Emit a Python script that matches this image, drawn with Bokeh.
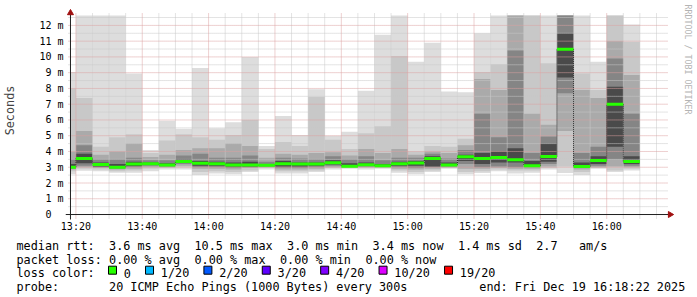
import numpy as np
from bokeh.plotting import figure
from bokeh.layouts import column
from bokeh.models import Range1d, FixedTicker
from bokeh.core.properties import value
from bokeh.embed import file_html
from bokeh.resources import INLINE

# ---------------- data ----------------
FIRST_BAR_END = "13:20"      # each bar = one 5-minute probe interval ending at this time
STEP_MIN = 5
WINDOW_START = "13:18:22"
WINDOW_END = "16:18:22"

# smoke bands (ms): outer -> inner, plus median
RTT_MIN = [2.55, 2.78, 2.75, 2.65, 2.65, 2.75, 2.85, 2.85, 2.50, 2.60, 2.55, 2.70, 2.85, 2.60, 2.60, 2.70, 2.85, 2.90,
           2.85, 2.90, 2.65, 2.55, 2.70, 2.90, 2.55, 2.63, 2.74, 2.60, 2.65, 2.85, 2.63, 2.50, 2.90, 2.70, 2.80]
B2_LO = [2.75, 2.90, 2.85, 2.75, 2.80, 2.90, 2.95, 3.00, 2.70, 2.75, 2.70, 2.80, 2.95, 2.75, 2.75, 2.80, 2.95, 2.95,
         2.95, 2.95, 2.80, 2.70, 2.80, 2.95, 2.70, 2.75, 2.85, 2.80, 2.80, 2.95, 3.05, 2.70, 2.95, 2.80, 2.90]
B3_LO = [2.85, 3.00, 2.95, 2.85, 2.90, 3.00, 3.00, 3.10, 2.90, 2.90, 2.85, 2.95, 3.00, 2.85, 2.85, 2.90, 3.00, 3.00,
         3.00, 3.00, 2.90, 2.85, 2.90, 3.00, 2.90, 2.90, 2.95, 2.90, 2.90, 3.05, 5.30, 2.85, 3.00, 3.05, 3.00]
B4_LO = [2.90, 3.10, 3.00, 2.92, 3.00, 3.10, 3.05, 3.20, 3.00, 3.00, 2.95, 3.00, 3.05, 2.95, 2.95, 3.00, 3.10, 3.02,
         3.05, 3.02, 3.00, 2.95, 3.00, 3.05, 3.20, 3.00, 3.05, 3.00, 3.00, 3.20, 7.70, 2.95, 3.10, 3.50, 3.10]
B5_LO = [2.95, 3.25, 3.05, 2.97, 3.08, 3.15, 3.10, 3.28, 3.10, 3.10, 3.05, 3.05, 3.08, 3.05, 3.05, 3.10, 3.18, 3.04,
         3.10, 3.05, 3.10, 3.10, 3.05, 3.08, 3.40, 3.20, 3.30, 3.30, 3.05, 3.35, 8.70, 3.00, 3.20, 4.30, 3.20]
MEDIAN = [3.00, 3.55, 3.17, 3.00, 3.20, 3.22, 3.15, 3.37, 3.25, 3.22, 3.15, 3.14, 3.12, 3.22, 3.20, 3.20, 3.28, 3.07,
          3.16, 3.10, 3.22, 3.27, 3.56, 3.14, 3.67, 3.56, 3.62, 3.47, 3.10, 3.68, 10.49, 3.05, 3.43, 6.99, 3.37]
B5_HI = [3.20, 3.85, 3.30, 3.20, 3.35, 3.30, 3.25, 3.50, 3.40, 3.35, 3.30, 3.35, 3.20, 3.40, 3.30, 3.30, 3.45, 3.25,
         3.30, 3.20, 3.35, 3.40, 3.70, 3.30, 3.80, 3.90, 4.00, 4.20, 3.40, 4.50, 11.50, 3.30, 3.70, 8.10, 3.70]
B4_HI = [3.50, 4.40, 3.50, 3.50, 3.60, 3.45, 3.45, 3.75, 3.85, 3.60, 3.60, 3.75, 3.35, 3.60, 3.55, 3.50, 3.70, 3.50,
         3.70, 3.45, 3.60, 3.60, 3.85, 3.55, 4.10, 6.40, 4.90, 10.40, 3.90, 4.95, 12.63, 3.90, 4.30, 9.90, 6.40]
B3_HI = [4.00, 5.30, 3.80, 4.00, 4.50, 3.65, 3.80, 4.10, 4.20, 4.20, 4.50, 4.35, 3.60, 3.85, 3.80, 3.90, 3.95, 3.75,
         4.15, 3.90, 4.15, 3.80, 4.00, 3.90, 4.40, 8.60, 7.90, 12.63, 6.40, 5.70, 12.63, 7.90, 7.40, 11.00, 8.85]
B2_HI = [8.00, 7.40, 4.30, 4.90, 5.10, 3.90, 4.70, 5.10, 4.90, 4.75, 5.05, 6.00, 4.15, 4.60, 4.35, 7.45, 4.75, 4.15,
         5.15, 5.60, 10.05, 4.00, 4.35, 4.30, 4.80, 9.05, 9.54, 12.63, 12.63, 9.60, 12.63, 8.95, 7.90, 12.63, 10.95]
RTT_MAX = [9.05, 12.63, 12.63, 12.63, 8.95, 4.10, 5.95, 5.45, 9.30, 5.47, 5.85, 10.00, 4.35, 6.25, 5.05, 7.95, 5.00,
           5.25, 7.85, 11.40, 12.63, 9.70, 10.90, 7.80, 7.75, 11.50, 12.63, 12.63, 12.63, 12.63, 12.63, 12.63, 9.70,
           12.63, 12.06]

Y_TICKS = list(range(0, 13))
Y_TICK_LABELS = ["0\u00a0\u00a0"] + ["%d m" % t for t in range(1, 13)]
X_TICK_LABELS = ["13:20", "13:40", "14:00", "14:20", "14:40", "15:00", "15:20", "15:40", "16:00"]

RTT_STATS = ["3.6 ms avg", "10.5 ms max", "3.0 ms min", "3.4 ms now", "1.4 ms sd", "2.7", "am/s"]
LOSS_STATS = ["0.00 % avg", "0.00 % max", "0.00 % min", "0.00 % now"]
LOSS_LABELS = ["0", "1/20", "2/20", "3/20", "4/20", "10/20", "19/20"]
LOSS_COLORS = ["#26ff00", "#00b8ff", "#0059ff", "#5e00ff", "#7e00ff", "#dd00ff", "#ff0000"]
PROBE_TEXT = "20 ICMP Echo Pings (1000 Bytes) every 300s"
END_TEXT = "end: Fri Dec 19 16:18:22 2025"
WATERMARK = "RRDTOOL / TOBI OETIKER"

BAND_COLORS = ["#dddddd", "#c8c8c8", "#aaaaaa", "#858585", "#4a4a4a"]

# ---------------- helpers ----------------
def minutes(s):
    parts = [float(v) for v in s.split(":")]
    m = parts[0] * 60 + parts[1]
    if len(parts) > 2:
        m += parts[2] / 60.0
    return m

T0 = minutes(WINDOW_START)
T_END = minutes(WINDOW_END)
first_end = minutes(FIRST_BAR_END)
n = len(MEDIAN)
ends = np.array([first_end + STEP_MIN * i for i in range(n)])
lefts = np.maximum(ends - STEP_MIN, T0)

X_TICKS = [int(minutes(s)) for s in X_TICK_LABELS]

PX_PER_MIN = 600.0 / (T_END - T0)     # 3 hours over 600 px
PX_PER_MS = 190.0 / 12.0
Y_TOP = 202.0 / PX_PER_MS

FONT = "DejaVu Sans Mono"

p = figure(width=697, height=234,
           x_range=Range1d(T0 - 5 / PX_PER_MIN, T0 + 630 / PX_PER_MIN),
           y_range=Range1d(-6 / PX_PER_MS, 215 / PX_PER_MS),
           output_backend="svg", toolbar_location=None,
           min_border_left=62, min_border_right=0, min_border_top=0, min_border_bottom=13)
p.frame_align = False
p.outline_line_color = None
p.background_fill_color = "white"
p.border_fill_color = "white"
p.xgrid.visible = False
p.ygrid.visible = False

# smoke
bands = [(RTT_MIN, RTT_MAX), (B2_LO, B2_HI), (B3_LO, B3_HI), (B4_LO, B4_HI), (B5_LO, B5_HI)]
for (lo, hi), col in zip(bands, BAND_COLORS):
    p.quad(left=lefts, right=ends, bottom=lo, top=hi, fill_color=col, line_color=None)

# grid
h_minor = np.arange(0.5, 12.6, 1.0)
h_major = np.array(Y_TICKS[1:], dtype=float)
v_all = np.arange(first_end, T_END, 5.0)
v_major = np.array(X_TICKS, dtype=float)
v_minor = np.array([v for v in v_all if int(round(v - first_end)) % 20 != 0])
gx0 = T0 - 2 / PX_PER_MIN
p.segment(x0=gx0, y0=h_minor, x1=T_END, y1=h_minor, line_color="#c8c8c8", line_width=1, line_dash="1 1")
p.segment(x0=v_minor, y0=-4 / PX_PER_MS, x1=v_minor, y1=Y_TOP, line_color="#c8c8c8", line_width=1, line_dash="1 1")
p.segment(x0=gx0, y0=h_major, x1=T_END, y1=h_major, line_color="#dca0a0", line_width=1, line_dash="1 1")
p.segment(x0=v_major, y0=-4 / PX_PER_MS, x1=v_major, y1=Y_TOP, line_color="#dca0a0", line_width=1, line_dash="1 1")

# median risers and median blocks
med = np.array(MEDIAN)
p.segment(x0=ends[:-1], y0=med[:-1], x1=ends[:-1], y1=med[1:], line_color="#202020", line_width=1, line_dash="1 1")
p.segment(x0=lefts, y0=med, x1=ends, y1=med, line_color="#26ff00", line_width=3)

# axes lines with arrows
x_arrow = T0 + 602.5 / PX_PER_MIN
y_arrow = (215 - 12.5) / PX_PER_MS
p.segment(x0=[T0 - 5 / PX_PER_MIN], y0=[0], x1=[x_arrow], y1=[0], line_color="#202020", line_width=1)
p.segment(x0=[T0], y0=[-5 / PX_PER_MS], x1=[T0], y1=[y_arrow], line_color="#202020", line_width=1)
p.scatter(x=[x_arrow], y=[0], marker="triangle", size=6, angle=-np.pi / 2,
          fill_color="#a01010", line_color="#a01010")
p.scatter(x=[T0], y=[y_arrow], marker="triangle", size=6,
          fill_color="#a01010", line_color="#a01010")

# watermark
p.text(x=[T0 + 620 / PX_PER_MIN], y=[(215 - 4) / PX_PER_MS], text=[WATERMARK], angle=-np.pi / 2,
       text_align="left", text_baseline="middle", text_font=value(FONT),
       text_font_size="8.3px", text_color="#b4b4b4")

# axes (labels only)
p.yaxis.ticker = FixedTicker(ticks=Y_TICKS, minor_ticks=[])
p.yaxis.major_label_overrides = {t: l for t, l in zip(Y_TICKS, Y_TICK_LABELS)}
p.xaxis.ticker = FixedTicker(ticks=X_TICKS, minor_ticks=[])
p.xaxis.major_label_overrides = {t: l for t, l in zip(X_TICKS, X_TICK_LABELS)}
for ax in (p.xaxis[0], p.yaxis[0]):
    ax.axis_line_color = None
    ax.major_tick_line_color = None
    ax.minor_tick_line_color = None
    ax.major_tick_in = 0
    ax.major_tick_out = 0
    ax.minor_tick_in = 0
    ax.minor_tick_out = 0
    ax.major_label_text_font = FONT
    ax.major_label_text_font_size = "10px"
    ax.major_label_text_color = "#000000"
p.yaxis.major_label_standoff = 2
p.xaxis.major_label_standoff = 0
p.yaxis.axis_label = "Seconds"
p.yaxis.axis_label_text_font = FONT
p.yaxis.axis_label_text_font_size = "11.8px"
p.yaxis.axis_label_text_font_style = "normal"
p.yaxis.axis_label_standoff = 19

# ---------------- legend block ----------------
q = figure(width=697, height=63, x_range=Range1d(0, 697), y_range=Range1d(63, 0),
           output_backend="svg", toolbar_location=None,
           min_border_left=0, min_border_right=0, min_border_top=0, min_border_bottom=0)
q.frame_align = False
q.axis.visible = False
q.grid.visible = False
q.outline_line_color = None
q.background_fill_color = "white"
q.border_fill_color = "white"

CW = 7.12
X0 = 16
ROW_Y = [11.2, 25.0, 38.8, 52.6]
items = []
items.append(("median rtt:", 0, 0))
for s, c in zip(RTT_STATS, [13, 25, 38, 50, 62, 73, 79]):
    items.append((s, c, 0))
items.append(("packet loss:", 0, 1))
for s, c in zip(LOSS_STATS, [13, 25, 37, 49]):
    items.append((s, c, 1))
items.append(("loss color:", 0, 2))
items.append(("probe:", 0, 3))
items.append((PROBE_TEXT, 13, 3))
items.append((END_TEXT, 65, 3))

q.text(x=[X0 + c * CW for _, c, _ in items], y=[ROW_Y[r] for _, _, r in items],
       text=[s for s, _, _ in items], text_font=value(FONT), text_font_size="11.8px",
       text_baseline="alphabetic", text_align="left", text_color="#000000")

sq_x, lab_x = [], []
x = 108.0
for lab in LOSS_LABELS:
    sq_x.append(x + 4)
    lab_x.append(x + 15.3)
    x = x + 15.3 + len(lab) * CW + 14.6
q.scatter(x=sq_x, y=[35.7] * len(sq_x), marker="square", size=8,
          fill_color=LOSS_COLORS, line_color="#000000", line_width=1)
q.text(x=lab_x, y=[ROW_Y[2]] * len(lab_x), text=LOSS_LABELS, text_font=value(FONT),
       text_font_size="11.8px", text_baseline="alphabetic", text_align="left", text_color="#000000")

layout = column(p, q, spacing=0)
open("out.html", "w").write(file_html(layout, INLINE))
